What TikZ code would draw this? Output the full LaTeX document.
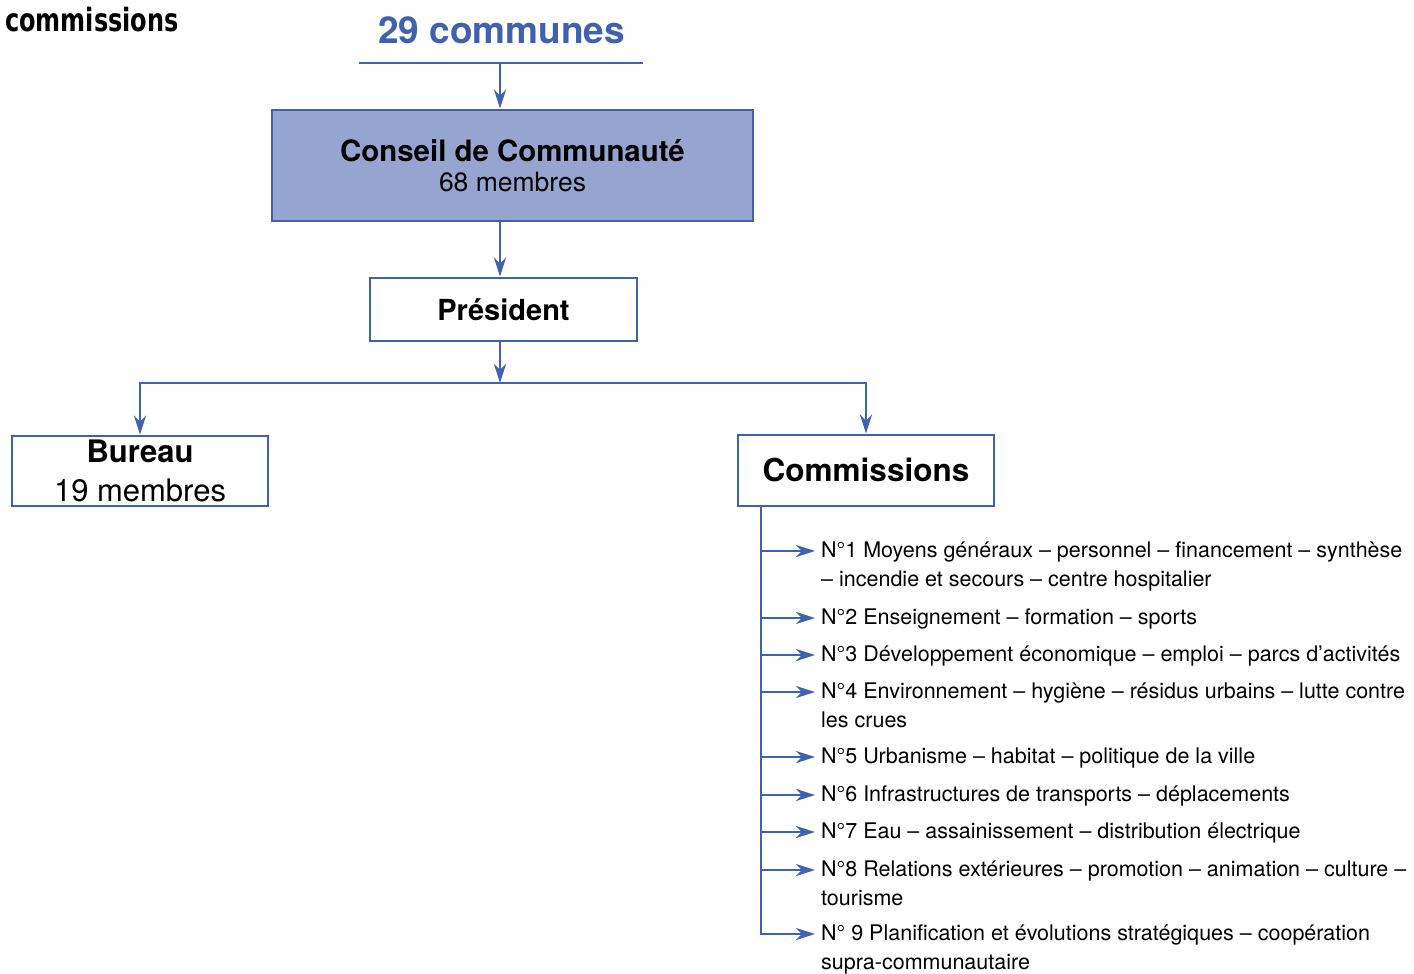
\documentclass[tikz,border=0pt]{standalone}
\usepackage{fontspec}
\setmainfont{TeX Gyre Heros}
\newfontfamily\titlefont{DejaVu Sans}[FakeStretch=0.75]
\usetikzlibrary{arrows.meta}
\definecolor{bl}{RGB}{63,97,174}
\definecolor{boxfill}{RGB}{150,165,208}
\begin{document}
\begin{tikzpicture}[x=1pt,y=-1pt,
  line/.style={draw=bl,line width=2.8pt},
  arr/.style={line,-{Stealth[length=19pt,width=12pt,inset=6pt]}},
  box/.style={draw=bl,line width=2.8pt,inner sep=0pt,align=center,text=black},
  item/.style={anchor=base west,inner sep=0pt,align=left,font=\fontsize{21.5}{28.5}\selectfont}
]
\useasboundingbox (0,0) rectangle (1414,974);

% title
\node[anchor=base west,inner sep=0pt,font=\titlefont\bfseries\fontsize{32}{32}\selectfont] (title) at (5,32) {commissions};

% 29 communes
\node[anchor=base,inner sep=0pt,text=bl,font=\bfseries\fontsize{37}{37}\selectfont] (communes) at (501.5,44) {29 communes};
\coordinate (ul) at (359,63);
\coordinate (ur) at (643,63);
\coordinate (c29) at (500,63);
\draw[line] (ul) -- (ur);

% boxes
\node[box,fill=boxfill,minimum width=481pt,minimum height=111pt,font=\fontsize{29.4}{30}\selectfont] (conseil) at (512.5,165.5)
  {\bfseries Conseil de Communauté\\\fontsize{26.5}{30}\selectfont 68 membres};
\node[box,minimum width=267pt,minimum height=63pt,text height=21pt,text depth=0pt,font=\bfseries\fontsize{29}{30}\selectfont] (pres) at (503.5,309.5) {Président};
\node[box,minimum width=256pt,minimum height=70pt,font=\fontsize{31}{39}\selectfont] (bureau) at (140,471)
  {\bfseries Bureau\\19 membres};
\node[box,minimum width=256pt,minimum height=71pt,text height=22pt,text depth=0pt,font=\bfseries\fontsize{31.5}{32}\selectfont] (comm) at (866,470.5) {Commissions};

% connectors
\draw[arr] (c29) -- (c29 |- conseil.north);
\draw[arr] (c29 |- conseil.south) -- (c29 |- pres.north);
\coordinate (split) at (500,383);
\draw[arr] (c29 |- pres.south) -- (split);
\draw[arr] (split) -| (bureau.north);
\draw[arr] (split) -| (comm.north);

% commission list (\n = number of extra lines below the first)
\coordinate (trunk) at (761,506);
\foreach \y/\n/\t [count=\i] in {
  551/1/{N°1 Moyens généraux – personnel – financement – synthèse\\– incendie et secours – centre hospitalier},
  618/0/{N°2 Enseignement – formation – sports},
  655/0/{N°3 Développement économique – emploi – parcs d’activités},
  692/1/{N°4 Environnement – hygiène – résidus urbains – lutte contre\\les crues},
  757/0/{N°5 Urbanisme – habitat – politique de la ville},
  795/0/{N°6 Infrastructures de transports – déplacements},
  832/0/{N°7 Eau – assainissement – distribution électrique},
  870/1/{N°8 Relations extérieures – promotion – animation – culture –\\tourisme},
  934/1/{N° 9 Planification et évolutions stratégiques – coopération\\supra-communautaire}}
{
  \coordinate (a\i) at (815,\y);
  \node[item] (t\i) at ([shift={(6,6.5+28.5*\n)}]a\i) {\t};
  \ifnum\i<9
    \draw[arr] (trunk |- a\i) -- (a\i);
  \fi
}
\draw[arr] (trunk) |- (a9);
\end{tikzpicture}
\end{document}
